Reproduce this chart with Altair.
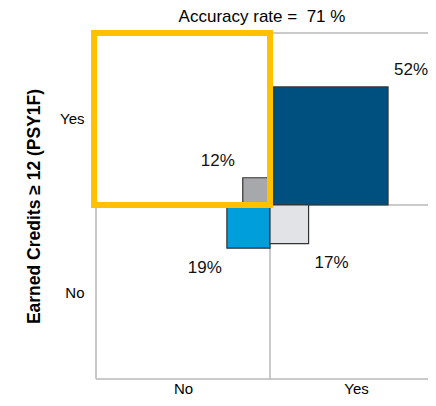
import altair as alt
import pandas as pd

# ---- data ----
predicted = ["Yes", "No", "No", "Yes"]
actual = ["Yes", "Yes", "No", "No"]
percent = [52, 12, 19, 17]
fill_colors = ["#00507F", "#A6A8AB", "#009FDB", "#E1E3E6"]
title_text = "Accuracy rate = \u00a071 %"
y_title = "Earned Credits \u2265 12 (PSY1F)"

FONT = "Liberation Sans"
K = 2.27                      # px per percentage unit
PW, PH = 332, 346             # plot area
QX = 174 / K                  # quadrant extent (left / bottom)
XMAX = (PW - 174) / K         # visible right end
YMAX = 172 / K                # top

df = pd.DataFrame({"pred": predicted, "act": actual, "pct": percent, "color": fill_colors})
df["label"] = df["pct"].astype(str) + "%"

base = alt.Chart(df).transform_calculate(
    sx="datum.pred == 'Yes' ? 1 : -1",
    sy="datum.act == 'Yes' ? 1 : -1",
).transform_calculate(
    x0="0", y0="0",
    x1="datum.sx * datum.pct",
    y1="datum.sy * datum.pct",
)

xscale = alt.Scale(domain=[-QX, XMAX], nice=False, zero=False)
yscale = alt.Scale(domain=[-QX, YMAX], nice=False, zero=False)

xaxis = alt.Axis(values=[-QX / 2, 86 / K], labelExpr="datum.value < 0 ? 'No' : 'Yes'",
                 domain=False, ticks=False, grid=False, title=None,
                 labelFont=FONT, labelFontSize=15, labelColor="#000", labelPadding=14.5,
                 labelBaseline="alphabetic")
yaxis = alt.Axis(values=[-QX / 2, QX / 2], labelExpr="datum.value < 0 ? 'No' : 'Yes'",
                 domain=False, ticks=False, grid=False, title=y_title,
                 labelFont=FONT, labelFontSize=15, labelColor="#000", labelPadding=12,
                 titleFont=FONT, titleFontSize=17.5, titleFontWeight="bold", titleColor="#000",
                 titlePadding=16)

# grid lines
vlines = pd.DataFrame({"x": [-QX, 0.0]})
hlines = pd.DataFrame({"y": [YMAX, 0.0, -QX]})
vr = alt.Chart(vlines).mark_rule(color="#B8B8B8", strokeWidth=1.5).encode(
    x=alt.X("x:Q", scale=xscale, axis=xaxis),
    y=alt.value(0), y2=alt.value(PH))
hr = alt.Chart(hlines).mark_rule(color="#B8B8B8", strokeWidth=1.5).encode(
    y=alt.Y("y:Q", scale=yscale, axis=yaxis),
    x=alt.value(0), x2=alt.value(PW))

squares = base.mark_rect(stroke="#333333", strokeWidth=1.2).encode(
    x=alt.X("x0:Q", scale=xscale, axis=xaxis), x2="x1:Q",
    y=alt.Y("y0:Q", scale=yscale, axis=yaxis), y2="y1:Q",
    fill=alt.Fill("color:N", scale=None),
)

hl = pd.DataFrame({"a": [1]})
highlight = alt.Chart(hl).mark_rect(fillOpacity=0, stroke="#FFC000", strokeWidth=6).encode(
    x=alt.datum(-77.5, scale=xscale), x2=alt.datum(0),
    y=alt.datum(0, scale=yscale), y2=alt.datum(YMAX),
)

label_style = {
    ("Yes", "Yes"): dict(align="left", dx=6, dy=-17),
    ("No", "Yes"): dict(align="right", dx=-8, dy=-17),
    ("No", "No"): dict(align="right", dx=-5, dy=20),
    ("Yes", "No"): dict(align="left", dx=6, dy=19),
}
labels = []
for (p, a), st in label_style.items():
    labels.append(
        base.transform_filter(f"datum.pred == '{p}' && datum.act == '{a}'")
        .mark_text(font=FONT, fontSize=17, color="#111", baseline="middle", **st)
        .encode(x=alt.X("x1:Q", scale=xscale), y=alt.Y("y1:Q", scale=yscale), text="label:N")
    )

chart = alt.layer(vr, hr, squares, highlight, *labels).properties(
    width=PW, height=PH,
    title=alt.TitleParams(title_text, font=FONT, fontSize=17, fontWeight="normal",
                          color="#000", offset=4, anchor="middle"),
    autosize=alt.AutoSizeParams(type="none"),
    padding={"left": 88, "top": 25, "right": 0, "bottom": 19},
).configure_view(stroke=None)

chart.save("out.html", embed_options={"renderer": "svg", "actions": False})
